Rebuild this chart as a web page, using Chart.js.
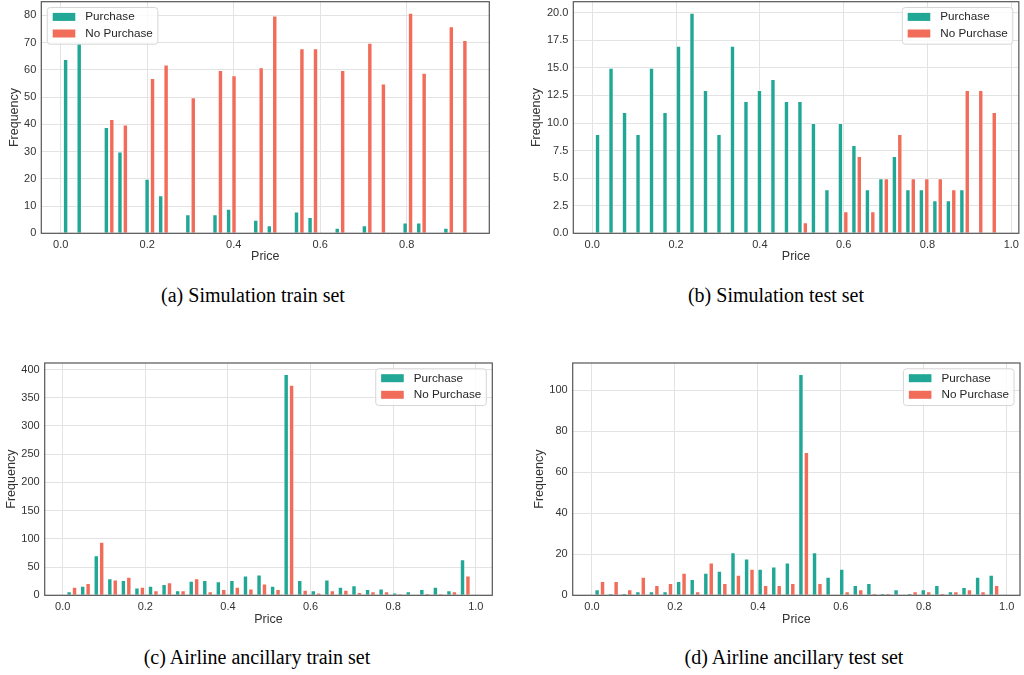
<!DOCTYPE html>
<html>
<head>
<meta charset="utf-8">
<script src="https://cdn.jsdelivr.net/npm/chart.js@4.4.1/dist/chart.umd.min.js"></script>
<style>
  html, body { margin: 0; padding: 0; background: #fff; }
  #fig { position: relative; width: 1024px; height: 675px; overflow: hidden; background: #fff; }
  #fig canvas { position: absolute; }
  .cap { position: absolute; width: 400px; text-align: center; font-family: "Liberation Serif", "Times New Roman", serif; font-size: 20px; color: #000; line-height: 24px; }
</style>
</head>
<body>
<div id="fig">
  <canvas id="chartA" width="500" height="290" style="left:0px;top:-20px"></canvas>
  <canvas id="chartB" width="494" height="290" style="left:530px;top:-20px"></canvas>
  <canvas id="chartC" width="512" height="300" style="left:0px;top:340px"></canvas>
  <canvas id="chartD" width="494" height="300" style="left:530px;top:340px"></canvas>
  <div class="cap" style="left:53px;top:283px">(a) Simulation train set</div>
  <div class="cap" style="left:576px;top:283px">(b) Simulation test set</div>
  <div class="cap" style="left:57px;top:645px">(c) Airline ancillary train set</div>
  <div class="cap" style="left:594px;top:645px">(d) Airline ancillary test set</div>
</div>
<script>
// series labels
var seriesNames = ['Purchase', 'No Purchase'];

// (a) simulation train set: 30 bins
var simTrainStart = 0.002, simTrainWidth = 0.0314;
var simTrainPurchase   = [64, 70, 0, 39, 30, 0, 20, 14, 0, 7, 0, 7, 9, 0, 5, 3, 0, 8, 6, 0, 2, 0, 3, 0, 0, 4, 4, 0, 2, 0];
var simTrainNoPurchase = [0, 0, 0, 42, 40, 0, 57, 62, 0, 50, 0, 60, 58, 0, 61, 80, 0, 68, 68, 0, 60, 0, 70, 55, 0, 81, 59, 0, 76, 71];

// (b) simulation test set
var simTestStart = 0.003, simTestWidth = 0.0322;
var simTestPurchase   = [9, 15, 11, 9, 15, 11, 17, 20, 13, 9, 17, 12, 13, 14, 12, 12, 10, 4, 10, 8, 4, 5, 7, 4, 4, 3, 3, 4, 0, 0];
var simTestNoPurchase = [0, 0, 0, 0, 0, 0, 0, 0, 0, 0, 0, 0, 0, 0, 0, 1, 0, 0, 2, 7, 2, 5, 9, 5, 5, 5, 4, 13, 13, 11];

// (c) airline ancillary train set
var airTrainStart = 0.0057, airTrainWidth = 0.03284;
var airTrainPurchase   = [7, 17, 71, 30, 27, 14, 17, 20, 9, 26, 27, 25, 27, 35, 37, 17, 392, 27, 9, 28, 15, 18, 11, 12, 5, 7, 11, 15, 9, 64];
var airTrainNoPurchase = [15, 22, 95, 28, 33, 15, 9, 23, 9, 30, 7, 11, 15, 12, 21, 11, 373, 10, 5, 9, 10, 6, 7, 7, 3, 1, 4, 3, 7, 35];

// (d) airline ancillary test set
var airTestStart = 0.0025, airTestWidth = 0.03277;
var airTestPurchase   = [3, 1, 1, 2, 2, 2, 7, 8, 11, 12, 21, 18, 13, 14, 16, 108, 21, 9, 13, 5, 6, 1, 3, 1, 3, 5, 2, 4, 9, 10];
var airTestNoPurchase = [7, 7, 3, 9, 5, 6, 11, 2, 16, 6, 10, 13, 5, 5, 6, 70, 6, 0, 2, 3, 1, 1, 0, 2, 2, 1, 2, 3, 2, 5];

var purchaseColor = 'rgb(33,167,149)';
var noPurchaseColor = 'rgb(242,108,90)';
var sansFont = '"Liberation Sans", Arial, sans-serif';

// frame + legend drawn inside the plot area
var framePlugin = {
  id: 'frameLegend',
  afterDatasetsDraw: function(chart, args, opts) {
    var ctx = chart.ctx, a = chart.chartArea;
    ctx.save();
    ctx.strokeStyle = '#555';
    ctx.lineWidth = 1.2;
    ctx.strokeRect(a.left, a.top, a.right - a.left, a.bottom - a.top);

    ctx.font = '11.7px ' + sansFont;
    var sets = chart.data.datasets;
    var textW = 0;
    sets.forEach(function(d) { textW = Math.max(textW, ctx.measureText(d.label).width); });
    var w = 38 + textW + 5, h = 36.7;
    var x = opts.side === 'left' ? a.left + 6 : a.right - 6 - w;
    var y = a.top + 5.8;
    ctx.beginPath();
    ctx.roundRect(x, y, w, h, 3);
    ctx.fillStyle = 'rgba(255,255,255,0.8)';
    ctx.fill();
    ctx.strokeStyle = '#d6d6d6';
    ctx.lineWidth = 1;
    ctx.stroke();
    ctx.textBaseline = 'middle';
    sets.forEach(function(d, i) {
      ctx.fillStyle = d.backgroundColor;
      ctx.fillRect(x + 5.4, y + 5.4 + i * 16.6, 22.6, 8);
      ctx.fillStyle = '#262626';
      ctx.fillText(d.label, x + 38, y + 9.6 + i * 16.6);
    });
    ctx.restore();
  }
};

function toPoints(start, width, counts) {
  return counts.map(function(v, i) { return { x: start + (i + 0.5) * width, y: v }; });
}

function makeChart(id, spec) {
  var lh = 12.5 * 1.2;
  var box = spec.canvas, area = spec.area;
  return new Chart(document.getElementById(id), {
    type: 'bar',
    data: {
      datasets: [
        { label: seriesNames[0], data: toPoints(spec.start, spec.width, spec.purchase),
          backgroundColor: purchaseColor, borderColor: 'rgba(255,255,255,0.35)', borderWidth: 1 },
        { label: seriesNames[1], data: toPoints(spec.start, spec.width, spec.noPurchase),
          backgroundColor: noPurchaseColor, borderColor: 'rgba(255,255,255,0.35)', borderWidth: 1 }
      ]
    },
    options: {
      responsive: false,
      animation: false,
      devicePixelRatio: 1,
      datasets: { bar: { categoryPercentage: 0.8, barPercentage: 1.0, inflateAmount: 0, borderSkipped: 'start' } },
      layout: { padding: { left: 0, top: area.t - box.top, right: box.left + box.w - area.r, bottom: 0 } },
      plugins: {
        legend: { display: false },
        tooltip: { enabled: false },
        frameLegend: { side: spec.legendSide }
      },
      scales: {
        x: {
          type: 'linear',
          offset: false,
          min: spec.xmin,
          max: spec.xmax,
          grid: { color: '#e3e3e3', lineWidth: 1, drawTicks: false, offset: false },
          border: { display: false },
          ticks: {
            stepSize: 0.2, includeBounds: false, autoSkip: false, maxRotation: 0, padding: 5,
            color: '#333', font: { family: sansFont, size: 11 },
            callback: function(v) { return v.toFixed(1); }
          },
          title: { display: true, text: 'Price', color: '#333', font: { family: sansFont, size: 12.5 },
                   padding: { top: 0, bottom: box.top + box.h - spec.xTitleY - lh / 2 } },
          afterFit: function(s) { s.height = box.top + box.h - area.b; }
        },
        y: {
          min: 0,
          max: spec.ymax,
          grid: { color: '#e3e3e3', lineWidth: 1, drawTicks: false },
          border: { display: false },
          ticks: {
            stepSize: spec.ystep, includeBounds: false, padding: 5,
            color: '#333', font: { family: sansFont, size: 11 },
            callback: function(v) { return spec.ydec ? v.toFixed(spec.ydec) : String(v); }
          },
          title: { display: true, text: 'Frequency', color: '#333', font: { family: sansFont, size: 12.5 },
                   padding: { top: spec.yTitleX - box.left - lh / 2, bottom: 0 } },
          afterFit: function(s) { s.width = area.l - box.left; }
        }
      }
    },
    plugins: [framePlugin]
  });
}

makeChart('chartA', {
  start: simTrainStart, width: simTrainWidth, purchase: simTrainPurchase, noPurchase: simTrainNoPurchase,
  xmin: -0.0448, xmax: 0.991, ymax: 85.05, ystep: 10, ydec: 0, legendSide: 'left',
  canvas: { left: 0, top: -20, w: 500, h: 290 }, area: { l: 41.3, t: 1.7, r: 489.3, b: 233.3 },
  yTitleX: 14.5, xTitleY: 257
});
makeChart('chartB', {
  start: simTestStart, width: simTestWidth, purchase: simTestPurchase, noPurchase: simTestNoPurchase,
  xmin: -0.0452, xmax: 1.018, ymax: 21, ystep: 2.5, ydec: 1, legendSide: 'right',
  canvas: { left: 530, top: -20, w: 494, h: 290 }, area: { l: 573.3, t: 1.7, r: 1020.3, b: 233.3 },
  yTitleX: 536.7, xTitleY: 257
});
makeChart('chartC', {
  start: airTrainStart, width: airTrainWidth, purchase: airTrainPurchase, noPurchase: airTrainNoPurchase,
  xmin: -0.0436, xmax: 1.040, ymax: 411.6, ystep: 50, ydec: 0, legendSide: 'right',
  canvas: { left: 0, top: 340, w: 512, h: 300 }, area: { l: 44.7, t: 363, r: 492.3, b: 595.3 },
  yTitleX: 11.7, xTitleY: 619.3
});
makeChart('chartD', {
  start: airTestStart, width: airTestWidth, purchase: airTestPurchase, noPurchase: airTestNoPurchase,
  xmin: -0.0465, xmax: 1.0321, ymax: 113.4, ystep: 20, ydec: 0, legendSide: 'right',
  canvas: { left: 530, top: 340, w: 494, h: 300 }, area: { l: 572.7, t: 363, r: 1020, b: 595.3 },
  yTitleX: 539.3, xTitleY: 619.3
});
</script>
</body>
</html>
